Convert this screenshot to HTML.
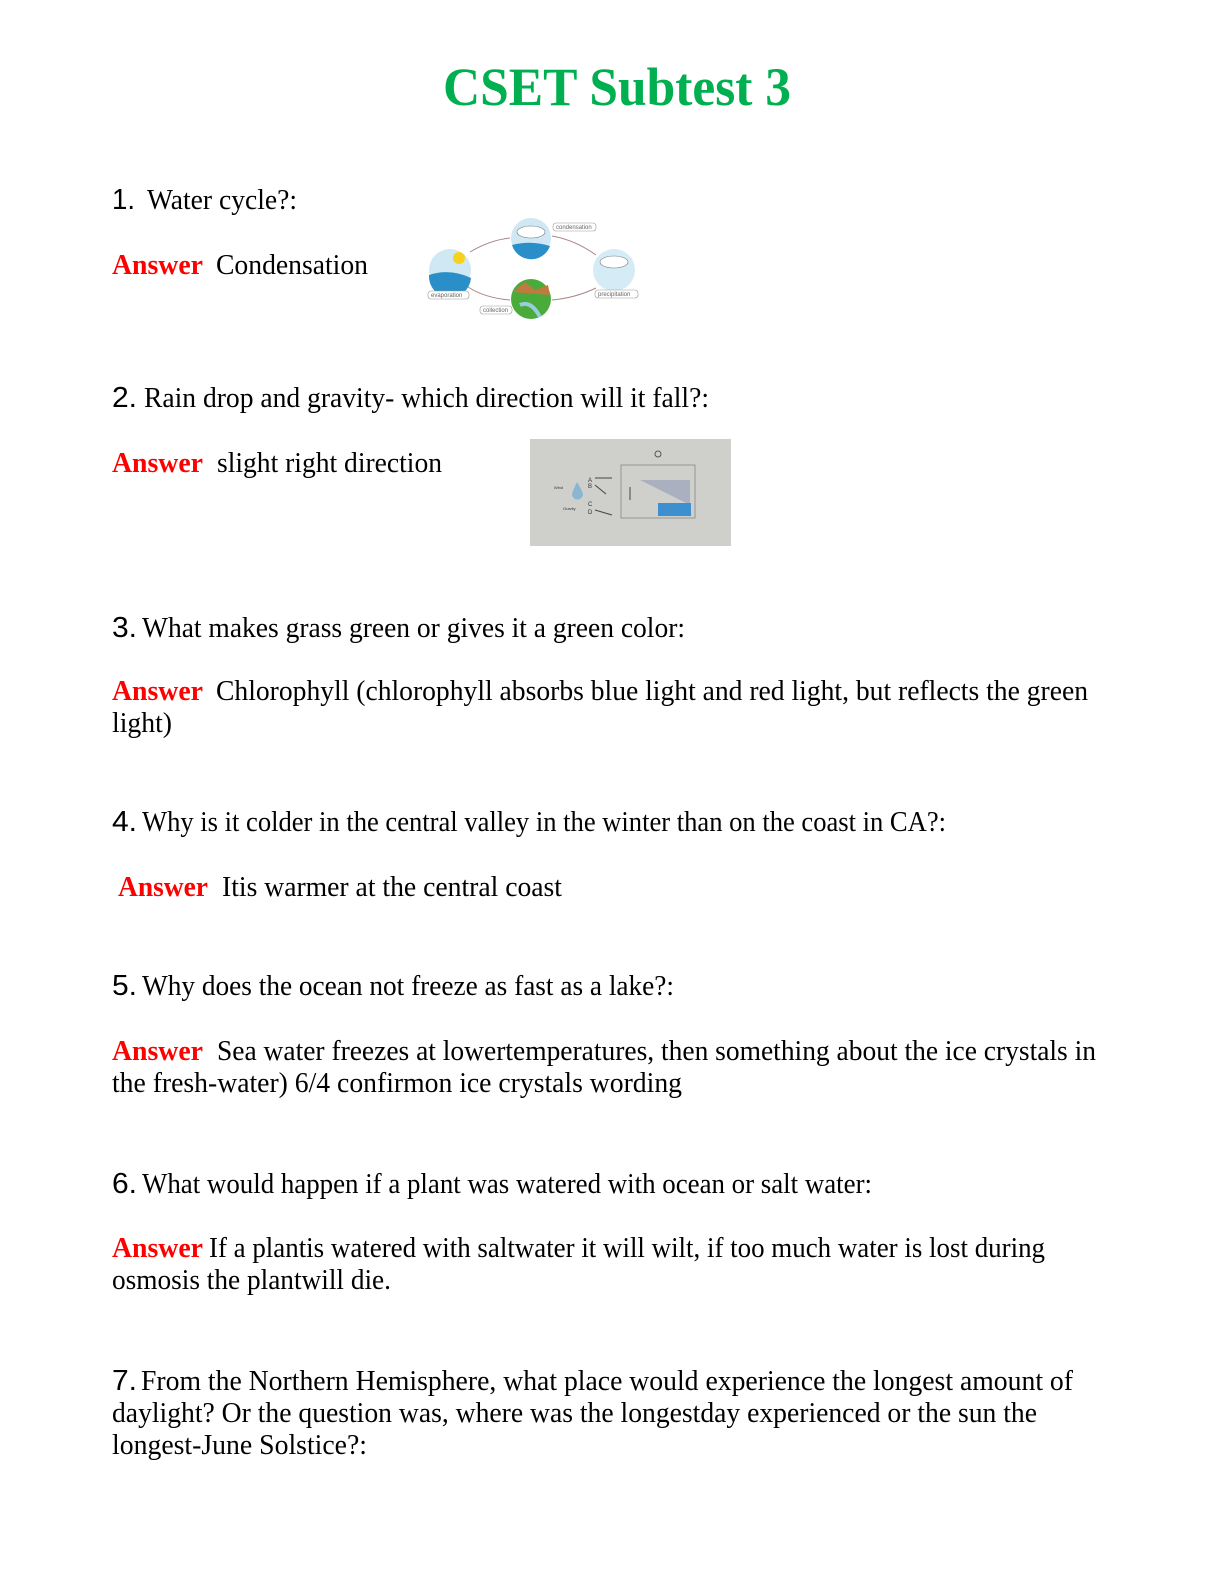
<!DOCTYPE html>
<html><head><meta charset="utf-8"><style>
html,body{margin:0;padding:0;background:#fff;overflow:hidden;width:1224px;height:1584px;}
svg{display:block;}
.t{font-family:"Liberation Serif",serif;font-size:28px;fill:#000;}
.n{font-family:"Liberation Sans",sans-serif;font-size:29px;fill:#000;}
.a{font-family:"Liberation Serif",serif;font-size:28px;font-weight:bold;fill:#ff0000;}
.s{font-family:"Liberation Sans",sans-serif;font-size:6px;fill:#666;}
</style></head><body>
<svg width="1224" height="1584" viewBox="0 0 1224 1584" xmlns="http://www.w3.org/2000/svg">
<text x="443" y="105" textLength="348" lengthAdjust="spacingAndGlyphs" style="font-family:'Liberation Serif',serif;font-weight:bold;font-size:54px;fill:#00b050;">CSET Subtest 3</text>

<text class="n" x="112" y="209" textLength="23" lengthAdjust="spacingAndGlyphs">1.</text>
<text class="t" x="147" y="209" textLength="150" lengthAdjust="spacingAndGlyphs">Water cycle?:</text>
<text class="a" x="112" y="274" textLength="91" lengthAdjust="spacingAndGlyphs">Answer</text>
<text class="t" x="216" y="274" textLength="152" lengthAdjust="spacingAndGlyphs">Condensation</text>

<g>
<path d="M470 252 Q490 240 510 238" stroke="#a88" fill="none" stroke-width="1"/>
<path d="M552 236 Q575 240 596 255" stroke="#a88" fill="none" stroke-width="1"/>
<path d="M596 288 Q575 298 552 300" stroke="#a88" fill="none" stroke-width="1"/>
<path d="M510 300 Q485 298 468 287" stroke="#a88" fill="none" stroke-width="1"/>
<circle cx="450" cy="270" r="21" fill="#cfe8f3"/>
<path d="M429 275 Q450 268 471 278 A21 21 0 0 1 429 275Z" fill="#2a8fc8"/>
<circle cx="459" cy="258" r="6" fill="#f7d21c"/>
<circle cx="531" cy="238" r="20" fill="#cfe8f3"/>
<path d="M512 245 Q531 240 550 246 A20 20 0 0 1 512 245Z" fill="#2a8fc8"/>
<ellipse cx="531" cy="232" rx="14" ry="6" fill="#fff" stroke="#777" stroke-width="0.6"/>
<circle cx="614" cy="270" r="21" fill="#d5ebf5"/>
<ellipse cx="614" cy="262" rx="14" ry="6" fill="#fff" stroke="#777" stroke-width="0.6"/>
<circle cx="531" cy="299" r="20" fill="#4aab3a"/>
<path d="M513 292 L525 282 L535 290 L548 285 L550 295 Z" fill="#c07a40"/>
<path d="M520 305 Q531 300 540 317" stroke="#9cd" stroke-width="4" fill="none"/>
<rect x="553" y="223" width="43" height="8" rx="3" fill="#fff" stroke="#999" stroke-width="0.6"/><text class="s" x="556" y="229">condensation</text>
<rect x="595" y="290" width="43" height="8" rx="3" fill="#fff" stroke="#999" stroke-width="0.6"/><text class="s" x="598" y="296">precipitation</text>
<rect x="428" y="291" width="41" height="8" rx="3" fill="#fff" stroke="#999" stroke-width="0.6"/><text class="s" x="431" y="297">evaporation</text>
<rect x="480" y="306" width="32" height="8" rx="3" fill="#fff" stroke="#999" stroke-width="0.6"/><text class="s" x="483" y="312">collection</text>
</g>

<text class="n" x="112" y="407" textLength="25" lengthAdjust="spacingAndGlyphs">2.</text>
<text class="t" x="144" y="407" textLength="565" lengthAdjust="spacingAndGlyphs">Rain drop and gravity- which direction will it fall?:</text>
<text class="a" x="112" y="472" textLength="91" lengthAdjust="spacingAndGlyphs">Answer</text>
<text class="t" x="217" y="472" textLength="225" lengthAdjust="spacingAndGlyphs">slight right direction</text>

<g>
<rect x="530" y="439" width="201" height="107" fill="#cfd0cc"/>
<rect x="621" y="465" width="74" height="53" fill="none" stroke="#888" stroke-width="0.8"/>
<circle cx="658" cy="454" r="3" fill="none" stroke="#555"/>
<path d="M640 480 L690 505 L690 480 Z" fill="#aab0c0"/>
<rect x="658" y="503" width="33" height="13" fill="#3d8fd0"/>
<path d="M577 482 Q582 490 583 494 A5 5 0 0 1 572 494 Q573 490 577 482Z" fill="#8ab6d0"/>
<line x1="595" y1="478" x2="612" y2="478" stroke="#444"/>
<line x1="595" y1="485" x2="606" y2="494" stroke="#444"/>
<line x1="595" y1="510" x2="612" y2="515" stroke="#444"/>
<line x1="630" y1="487" x2="630" y2="500" stroke="#444"/>
<text class="s" x="588" y="482" style="fill:#333">A</text><text class="s" x="588" y="488" style="fill:#333">B</text>
<text class="s" x="588" y="506" style="fill:#333">C</text><text class="s" x="588" y="514" style="fill:#333">D</text>
<text class="s" x="554" y="489" style="fill:#333;font-size:4px">Wind</text>
<text class="s" x="563" y="510" style="fill:#333;font-size:4px">Gravity</text>
</g>

<text class="n" x="112" y="637" textLength="25" lengthAdjust="spacingAndGlyphs">3.</text>
<text class="t" x="142" y="637" textLength="543" lengthAdjust="spacingAndGlyphs">What makes grass green or gives it a green color:</text>
<text class="a" x="112" y="700" textLength="91" lengthAdjust="spacingAndGlyphs">Answer</text>
<text class="t" x="216" y="700" textLength="872" lengthAdjust="spacingAndGlyphs">Chlorophyll (chlorophyll absorbs blue light and red light, but reflects the green</text>
<text class="t" x="112" y="732" textLength="60" lengthAdjust="spacingAndGlyphs">light)</text>

<text class="n" x="112" y="831" textLength="25" lengthAdjust="spacingAndGlyphs">4.</text>
<text class="t" x="142" y="831" textLength="804" lengthAdjust="spacingAndGlyphs">Why is it colder in the central valley in the winter than on the coast in CA?:</text>
<text class="a" x="118" y="896" textLength="90" lengthAdjust="spacingAndGlyphs">Answer</text>
<text class="t" x="222" y="896" textLength="340" lengthAdjust="spacingAndGlyphs">Itis warmer at the central coast</text>

<text class="n" x="112" y="995" textLength="25" lengthAdjust="spacingAndGlyphs">5.</text>
<text class="t" x="142" y="995" textLength="532" lengthAdjust="spacingAndGlyphs">Why does the ocean not freeze as fast as a lake?:</text>
<text class="a" x="112" y="1060" textLength="91" lengthAdjust="spacingAndGlyphs">Answer</text>
<text class="t" x="217" y="1060" textLength="879" lengthAdjust="spacingAndGlyphs">Sea water freezes at lowertemperatures, then something about the ice crystals in</text>
<text class="t" x="112" y="1092" textLength="570" lengthAdjust="spacingAndGlyphs">the fresh-water) 6/4 confirmon ice crystals wording</text>

<text class="n" x="112" y="1193" textLength="25" lengthAdjust="spacingAndGlyphs">6.</text>
<text class="t" x="142" y="1193" textLength="730" lengthAdjust="spacingAndGlyphs">What would happen if a plant was watered with ocean or salt water:</text>
<text class="a" x="112" y="1257" textLength="91" lengthAdjust="spacingAndGlyphs">Answer</text>
<text class="t" x="209" y="1257" textLength="836" lengthAdjust="spacingAndGlyphs">If a plantis watered with saltwater it will wilt, if too much water is lost during</text>
<text class="t" x="112" y="1289" textLength="279" lengthAdjust="spacingAndGlyphs">osmosis the plantwill die.</text>

<text class="n" x="112" y="1390" textLength="25" lengthAdjust="spacingAndGlyphs">7.</text>
<text class="t" x="141" y="1390" textLength="932" lengthAdjust="spacingAndGlyphs">From the Northern Hemisphere, what place would experience the longest amount of</text>
<text class="t" x="112" y="1422" textLength="925" lengthAdjust="spacingAndGlyphs">daylight? Or the question was, where was the longestday experienced or the sun the</text>
<text class="t" x="112" y="1454" textLength="255" lengthAdjust="spacingAndGlyphs">longest-June Solstice?:</text>
</svg>
</body></html>
